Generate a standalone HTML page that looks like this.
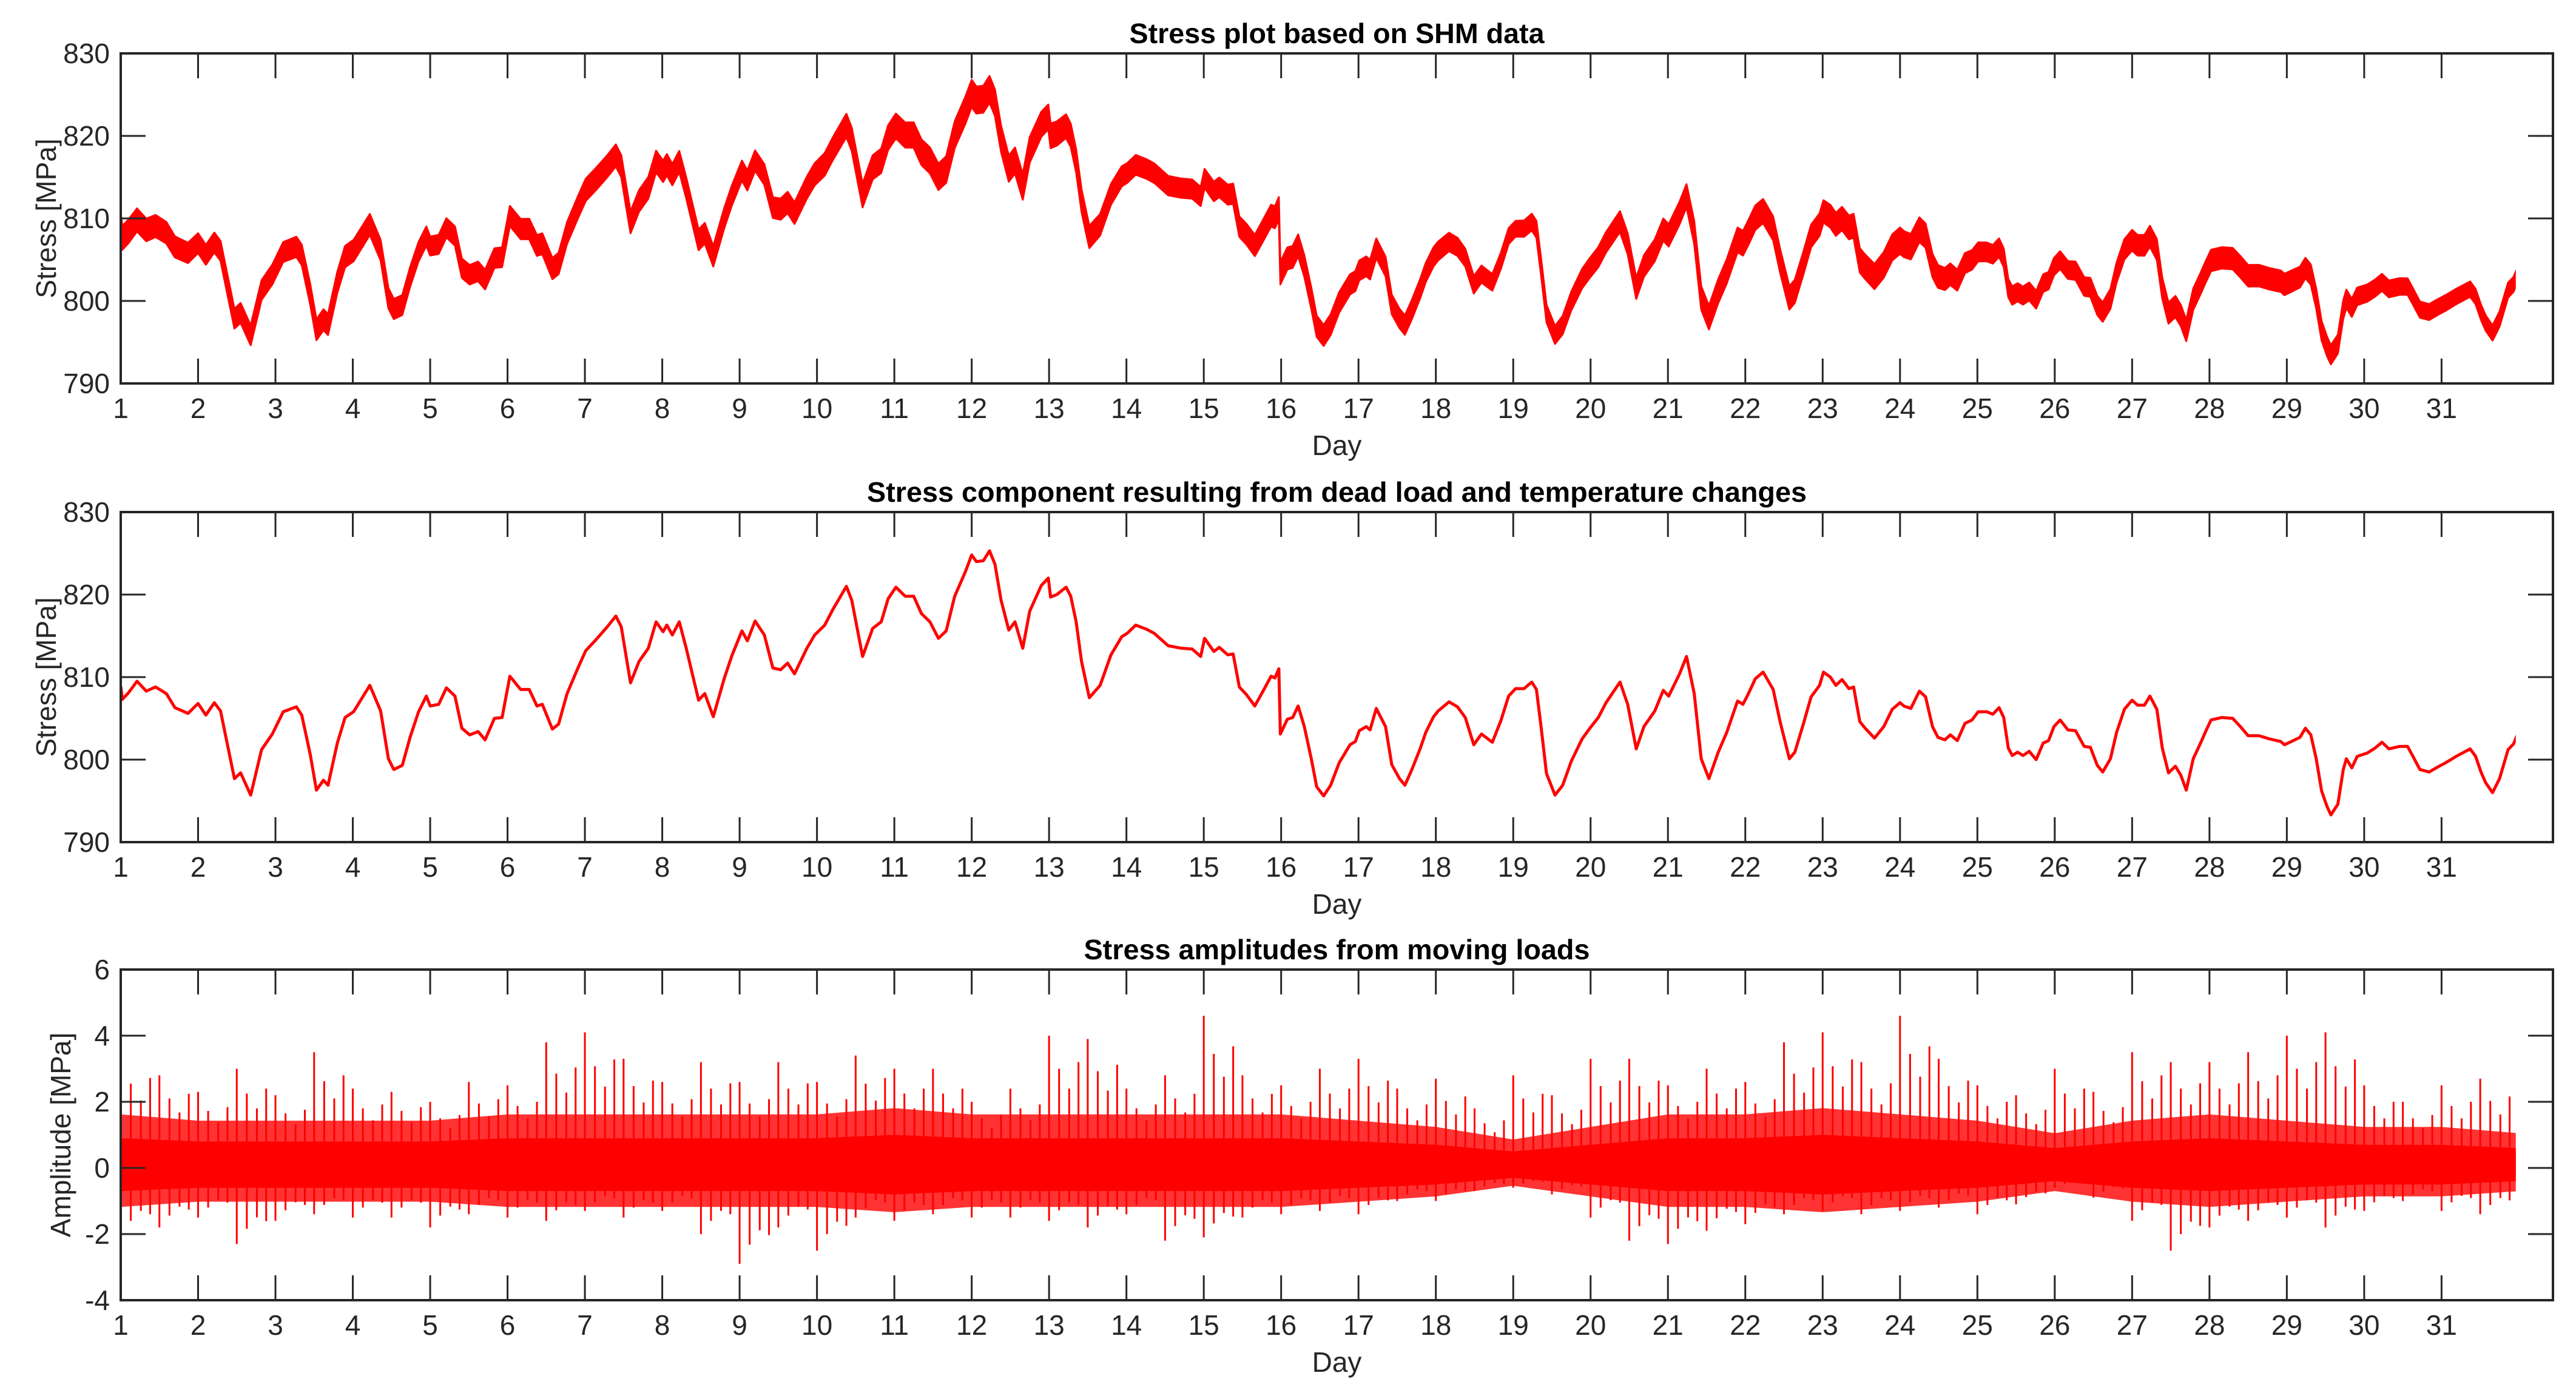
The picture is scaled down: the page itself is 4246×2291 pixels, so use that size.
<!DOCTYPE html>
<html><head><meta charset="utf-8"><title>Stress plots</title>
<style>
html,body{margin:0;padding:0;background:#fff;}
svg{display:block;}
text{font-family:"Liberation Sans",Arial,sans-serif;fill:#262626;}
</style></head>
<body>
<svg id="fig" width="4246" height="2291" viewBox="0 0 4246 2291" xmlns="http://www.w3.org/2000/svg">
<rect width="4246" height="2291" fill="#fff"/>
</svg>
<script>
// ---- data ----
const dayTicks = [1,2,3,4,5,6,7,8,9,10,11,12,13,14,15,16,17,18,19,20,21,22,23,24,25,26,27,28,29,30,31];
const stressTicks = [790,800,810,820,830];
const ampTicks = [-4,-2,0,2,4,6];
const titles = ["Stress plot based on SHM data","Stress component resulting from dead load and temperature changes","Stress amplitudes from moving loads"];

const smoothDays = [1.0,1.02,1.1,1.21,1.33,1.45,1.59,1.70,1.87,2.0,2.1,2.21,2.29,2.36,2.47,2.55,2.68,2.82,2.96,3.10,3.27,3.34,3.45,3.53,3.62,3.68,3.80,3.90,4.01,4.22,4.36,4.46,4.53,4.64,4.74,4.85,4.95,5.0,5.11,5.21,5.32,5.41,5.51,5.62,5.71,5.83,5.93,6.03,6.17,6.28,6.38,6.45,6.58,6.66,6.77,6.91,7.01,7.15,7.29,7.40,7.47,7.59,7.70,7.82,7.92,8.01,8.06,8.13,8.22,8.31,8.47,8.55,8.66,8.80,8.90,9.03,9.10,9.20,9.32,9.43,9.53,9.62,9.71,9.87,9.97,10.10,10.20,10.38,10.45,10.59,10.72,10.83,10.92,11.02,11.14,11.25,11.35,11.46,11.57,11.67,11.78,11.92,12.0,12.06,12.15,12.23,12.30,12.38,12.48,12.56,12.66,12.75,12.90,12.99,13.02,13.10,13.22,13.28,13.35,13.42,13.52,13.66,13.80,13.94,14.01,14.12,14.26,14.36,14.54,14.71,14.85,14.96,15.01,15.13,15.20,15.31,15.38,15.46,15.55,15.66,15.76,15.87,15.92,15.97,15.99,16.08,16.15,16.22,16.30,16.39,16.46,16.55,16.64,16.75,16.89,16.96,17.01,17.10,17.15,17.23,17.35,17.43,17.53,17.60,17.69,17.80,17.87,17.97,18.03,18.17,18.28,18.38,18.49,18.59,18.73,18.84,18.94,19.03,19.14,19.24,19.30,19.36,19.43,19.54,19.64,19.75,19.89,19.99,20.10,20.20,20.38,20.48,20.59,20.69,20.83,20.94,21.01,21.15,21.24,21.34,21.43,21.53,21.65,21.76,21.90,21.97,22.04,22.13,22.23,22.36,22.45,22.57,22.64,22.75,22.85,22.96,23.01,23.10,23.17,23.25,23.34,23.40,23.48,23.55,23.67,23.79,23.90,24.00,24.05,24.14,24.25,24.33,24.42,24.49,24.58,24.65,24.74,24.84,24.93,25.01,25.12,25.20,25.28,25.34,25.40,25.45,25.52,25.59,25.67,25.76,25.85,25.92,25.99,26.07,26.17,26.27,26.38,26.46,26.55,26.62,26.72,26.80,26.90,27.00,27.07,27.16,27.23,27.32,27.39,27.47,27.56,27.63,27.70,27.79,27.88,27.95,28.02,28.16,28.30,28.40,28.50,28.64,28.78,28.92,28.97,29.06,29.17,29.24,29.31,29.38,29.45,29.52,29.57,29.66,29.73,29.77,29.84,29.91,30.04,30.14,30.23,30.32,30.46,30.56,30.63,30.72,30.84,30.95,31.05,31.19,31.37,31.44,31.51,31.57,31.66,31.75,31.86,31.93,32.01];
const smoothStress = [808.9,807.3,808.1,809.5,808.3,808.8,808.0,806.3,805.6,806.8,805.4,806.9,805.9,802.7,797.7,798.4,795.7,801.2,803.1,805.8,806.4,805.4,800.6,796.3,797.5,796.9,802.0,805.1,805.8,809.0,805.9,800.1,798.8,799.3,802.7,805.8,807.7,806.5,806.7,808.7,807.7,803.8,803.0,803.4,802.4,805.0,805.1,810.1,808.5,808.5,806.5,806.7,803.7,804.3,808.0,811.1,813.2,814.6,816.1,817.4,816.1,809.3,811.9,813.5,816.7,815.5,816.3,815.1,816.7,813.5,807.2,808.0,805.2,809.8,812.6,815.6,814.4,816.8,815.1,811.1,810.9,811.7,810.4,813.5,815.1,816.3,818.1,821.0,819.3,812.5,815.9,816.7,819.5,820.9,819.8,819.8,817.7,816.7,814.7,815.6,819.8,822.8,824.8,824.0,824.1,825.3,823.7,819.3,815.7,816.7,813.5,818.0,821.1,822.0,819.7,820.0,820.9,819.8,816.7,811.9,807.5,809.0,812.7,814.9,815.3,816.3,815.8,815.3,813.8,813.5,813.4,812.5,814.7,813.1,813.6,812.7,812.8,808.8,807.9,806.5,808.2,810.1,809.9,811.0,803.1,804.9,805.1,806.5,804.0,800.1,796.7,795.6,796.9,799.6,801.8,802.2,803.5,804.0,803.6,806.2,804.0,799.4,797.7,796.9,798.8,801.4,803.3,805.2,805.9,807.0,806.4,805.1,801.8,803.1,802.1,804.7,807.7,808.6,808.6,809.4,808.5,804.0,798.3,795.7,796.9,799.8,802.5,803.8,805.1,806.9,809.4,806.7,801.3,804.0,805.9,808.4,807.7,810.4,812.5,808.0,800.1,797.7,800.9,803.3,807.1,806.7,808.0,809.8,810.6,808.5,804.6,800.1,800.9,804.3,807.6,809.0,810.6,810.0,809.0,809.7,808.6,808.8,804.6,803.8,802.6,804.0,806.1,806.9,806.5,806.2,808.3,807.6,804.0,802.7,802.4,803.0,802.3,804.4,804.8,805.8,805.8,805.5,806.3,805.1,801.4,800.5,800.9,800.5,801.0,800.0,802.0,802.3,804.0,804.8,803.6,803.5,801.6,801.5,799.3,798.5,800.1,803.3,806.1,807.2,806.6,806.6,807.7,806.1,801.4,798.4,799.2,798.1,796.3,800.1,801.9,803.4,804.8,805.1,805.0,804.0,802.9,802.9,802.5,802.2,801.8,802.2,802.7,803.8,803.0,800.1,796.2,794.3,793.3,794.6,798.8,800.1,799.0,800.4,800.8,801.4,802.1,801.3,801.6,801.6,800.4,798.8,798.5,799.1,799.6,800.4,801.3,800.4,798.5,797.2,796.0,797.7,801.2,801.9,803.7];

// raw SHM signal noise band (MPa above / below the smooth component), per day 1..32
const rawUp   = [1.8,1.4,1.3,1.6,1.3,1.4,1.6,1.5,1.4,1.6,1.8,2.0,1.8,1.4,1.3,1.6,1.4,1.3,1.1,1.4,1.6,1.8,1.6,2.0,1.3,1.2,1.4,1.4,1.5,1.2,1.1,1.0];
const rawDown = [1.1,1.0,1.1,1.0,1.0,1.0,1.1,1.1,1.0,1.1,1.2,1.3,1.2,1.0,1.0,1.1,1.0,1.0,0.8,1.0,1.1,1.2,1.1,1.2,1.0,0.9,1.1,1.2,1.1,0.9,0.8,0.8];

// amplitude spike envelope per half-day bin (day 1.0, 1.5, ... 31.5)
const ampBinDays = [1.0,1.5,2.0,2.5,3.0,3.5,4.0,4.5,5.0,5.5,6.0,6.5,7.0,7.5,8.0,8.5,9.0,9.5,10.0,10.5,11.0,11.5,12.0,12.5,13.0,13.5,14.0,14.5,15.0,15.5,16.0,16.5,17.0,17.5,18.0,18.5,19.0,19.5,20.0,20.5,21.0,21.5,22.0,22.5,23.0,23.5,24.0,24.5,25.0,25.5,26.0,26.5,27.0,27.5,28.0,28.5,29.0,29.5,30.0,30.5,31.0,31.5];
const ampMax = [3.4,2.8,2.3,3.0,2.2,3.5,2.4,2.3,2.0,2.6,2.5,3.8,4.1,3.3,2.6,3.2,2.6,3.2,2.6,3.4,3.0,3.0,2.0,2.4,4.0,3.9,2.4,2.8,4.6,2.8,2.5,3.0,3.3,2.4,2.7,1.8,2.8,2.2,3.3,3.3,2.5,3.0,2.6,3.8,4.1,3.2,4.6,3.3,2.5,2.2,3.0,2.3,3.5,3.2,3.2,3.5,4.0,4.1,2.5,2.0,2.5,2.7];
const ampMin = [-2.0,-1.8,-1.5,-2.3,-1.6,-1.4,-1.5,-1.5,-1.8,-1.4,-1.5,-1.6,-1.3,-1.5,-1.3,-2.0,-2.9,-1.8,-2.5,-1.5,-1.6,-1.4,-1.5,-1.5,-1.6,-1.8,-1.4,-2.2,-2.1,-1.5,-1.4,-1.3,-1.4,-1.0,-1.0,-0.7,-0.6,-0.8,-1.5,-2.2,-2.3,-1.9,-1.7,-1.4,-1.3,-1.4,-1.3,-1.2,-1.4,-1.1,-0.6,-0.9,-1.6,-2.5,-1.8,-1.6,-1.5,-1.8,-1.3,-1.0,-1.3,-1.4];
// dense core half-width of amplitude signal per day 1..32
const ampCore = [0.8,0.7,0.7,0.7,0.7,0.8,0.8,0.8,0.8,0.8,0.9,0.8,0.8,0.8,0.8,0.8,0.7,0.6,0.4,0.6,0.8,0.8,0.9,0.8,0.7,0.5,0.7,0.8,0.7,0.6,0.6,0.5];

// ---- layout ----
const NS = "http://www.w3.org/2000/svg";
const svg = document.getElementById('fig');
const XL = 199, XR = 4208, XMIN = 1, XMAX = 32.44, XEND = 31.96;
const panels = [
  {top:88,  bot:632,  ymin:790, ymax:830, ticks:stressTicks, ylabel:"Stress [MPa]", ylx:92},
  {top:844, bot:1388, ymin:790, ymax:830, ticks:stressTicks, ylabel:"Stress [MPa]", ylx:92},
  {top:1598,bot:2143, ymin:-4,  ymax:6,   ticks:ampTicks,    ylabel:"Amplitude [MPa]", ylx:116}
];
const titleWidths = [684, 1549, 834];
function xs(d){ return XL + (d - XMIN) / (XMAX - XMIN) * (XR - XL); }
function ysFor(p){ return v => p.bot - (v - p.ymin) / (p.ymax - p.ymin) * (p.bot - p.top); }
function mk(tag, attrs, parent){ const e = document.createElementNS(NS, tag); for (const k in attrs) e.setAttribute(k, attrs[k]); (parent||svg).appendChild(e); return e; }
function perDay(arr, d){ const i = Math.max(0, Math.min(arr.length-1, d-1)); const i0 = Math.floor(i), i1 = Math.min(arr.length-1, i0+1); const t = i - i0; return arr[i0]*(1-t) + arr[i1]*t; }

panels.forEach((p, pi) => {
  const ys = ysFor(p);
  const g = mk('g', {});
  
  
  const clipId = 'clip' + pi;
  const cp = mk('clipPath', {id: clipId}, g);
  mk('rect', {x: XL, y: p.top, width: xs(XEND)-XL, height: p.bot-p.top}, cp);
  const dataG = mk('g', {'clip-path': 'url(#' + clipId + ')'}, g);
  
  

  if (pi === 0) {
    let up = [], dn = [];
    smoothDays.forEach((d, i) => {
      up.push(xs(d).toFixed(1) + ',' + ys(smoothStress[i] + perDay(rawUp, d)).toFixed(1));
      dn.push(xs(d).toFixed(1) + ',' + ys(smoothStress[i] - perDay(rawDown, d)).toFixed(1));
    });
    const band = mk('polygon', {points: up.concat(dn.reverse()).join(' '), fill: '#ff0000', stroke: '#ff0000', 'stroke-width': 3, 'stroke-linejoin': 'round'}, dataG);
    
    
  } else if (pi === 1) {
    const pts = smoothDays.map((d, i) => xs(d).toFixed(1) + ',' + ys(smoothStress[i]).toFixed(1)).join(' ');
    const line = mk('polyline', {points: pts, fill: 'none', stroke: '#ff0000', 'stroke-width': 5, 'stroke-linejoin': 'round'}, dataG);
    
    
  } else {
    ampBinDays.forEach((d, i) => {
      const offs = [[0, 1, 1], [0.13, 0.75, 0.8], [0.26, 0.6, 0.65], [0.38, 0.8, 0.7]];
      offs.forEach(o => {
        const dd = d + o[0];
        const sp = mk('line', {x1: xs(dd), x2: xs(dd), y1: ys(ampMin[i]*o[2]), y2: ys(ampMax[i]*o[1]), stroke: '#ff0000', 'stroke-width': 3}, dataG);
        
        
      });
    });
    let mu = [], md = [], cu = [], cd = [];
    for (let k = 0; k < ampCore.length; k++) {
      const d = k + 1, c = ampCore[k];
      mu.push(xs(d) + ',' + ys(0.1 + c*1.9)); md.push(xs(d) + ',' + ys(0.1 - c*1.6));
      cu.push(xs(d) + ',' + ys(0.1 + c)); cd.push(xs(d) + ',' + ys(0.1 - c));
    }
    const mid = mk('polygon', {points: mu.concat(md.reverse()).join(' '), fill: '#ff0000', 'fill-opacity': 0.8}, dataG);
    
    
    const core = mk('polygon', {points: cu.concat(cd.reverse()).join(' '), fill: '#ff0000'}, dataG);
    
    
  }

  const box = mk('rect', {x: XL, y: p.top, width: XR-XL, height: p.bot-p.top, fill: 'none', stroke: '#262626', 'stroke-width': 4}, g);
  
  
  dayTicks.forEach(d => {
    const x = xs(d);
    mk('line', {x1: x, x2: x, y1: p.bot, y2: p.bot-41, stroke: '#262626', 'stroke-width': 3}, g);
    mk('line', {x1: x, x2: x, y1: p.top, y2: p.top+41, stroke: '#262626', 'stroke-width': 3}, g);
    const t = mk('text', {x: x, y: p.bot + 57, 'font-size': 46, 'text-anchor': 'middle'}, g);
    
    
    t.textContent = d;
  });
  p.ticks.forEach(v => {
    const y = ys(v);
    mk('line', {x1: XL, x2: XL+41, y1: y, y2: y, stroke: '#262626', 'stroke-width': 3}, g);
    mk('line', {x1: XR, x2: XR-41, y1: y, y2: y, stroke: '#262626', 'stroke-width': 3}, g);
    const t = mk('text', {x: 181, y: y + 16, 'font-size': 46, 'text-anchor': 'end'}, g);
    
    
    t.textContent = v;
  });
  const xl = mk('text', {x: (XL+XR)/2, y: p.bot + 118, 'font-size': 46, 'text-anchor': 'middle'}, g);
  
  
  xl.textContent = 'Day';
  const cy = (p.top + p.bot) / 2;
  const yl = mk('text', {x: p.ylx, y: cy, 'font-size': 46, 'text-anchor': 'middle', transform: 'rotate(-90 ' + p.ylx + ' ' + cy + ')'}, g);
  
  
  yl.textContent = p.ylabel;
  const tt = mk('text', {x: (XL+XR)/2, y: p.top - 17, 'font-size': 46, 'font-weight': 'bold', 'text-anchor': 'middle', textLength: titleWidths[pi], lengthAdjust: 'spacingAndGlyphs'}, g);
  
  
  tt.style.fill = '#000';
  tt.textContent = titles[pi];
});
</script>
</body></html>
